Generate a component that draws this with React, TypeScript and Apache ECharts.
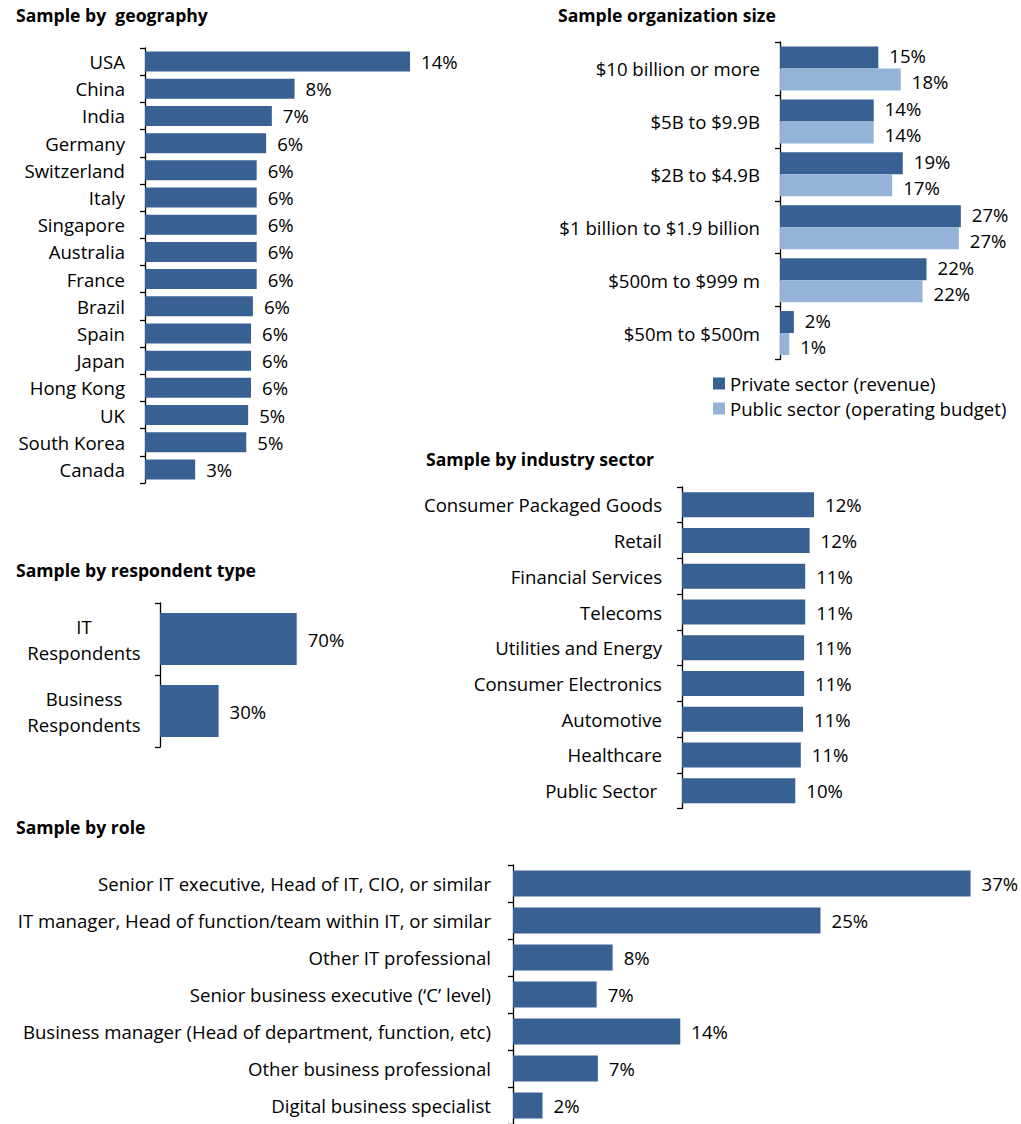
import React, { useEffect, useRef } from 'react';
import * as echarts from 'echarts';

const FONT = 'Open Sans';
const DARK = '#386092';
const LIGHT = '#95B3D7';
const LABEL_SIZE = 18.6;

const geoCategories = ['USA', 'China', 'India', 'Germany', 'Switzerland', 'Italy', 'Singapore', 'Australia', 'France', 'Brazil', 'Spain', 'Japan', 'Hong Kong', 'UK', 'South Korea', 'Canada'];
const geoValues = [14.0, 7.9, 6.7, 6.4, 5.9, 5.9, 5.9, 5.9, 5.9, 5.7, 5.6, 5.6, 5.6, 5.45, 5.35, 2.65];

const orgCategories = ['$10 billion or more', '$5B to $9.9B', '$2B to $4.9B', '$1 billion to $1.9 billion', '$500m to $999 m', '$50m to $500m'];
const orgPrivate = [14.9, 14.2, 18.6, 27.4, 22.2, 2.1];
const orgPublic = [18.3, 14.2, 17.0, 27.1, 21.6, 1.4];
const orgSeriesNames = ['Private sector (revenue)', 'Public sector (operating budget)'];

const industryCategories = ['Consumer Packaged Goods', 'Retail', 'Financial Services', 'Telecoms', 'Utilities and Energy', 'Consumer Electronics', 'Automotive', 'Healthcare', 'Public Sector '];
const industryValues = [12.0, 11.6, 11.2, 11.2, 11.1, 11.1, 11.0, 10.8, 10.3];

const respondentCategories = ['IT\nRespondents', 'Business\nRespondents'];
const respondentValues = [70, 30];

const roleCategories = [
  'Senior IT executive, Head of IT, CIO, or similar',
  'IT manager, Head of function/team within IT, or similar',
  'Other IT professional',
  'Senior business executive (\u2018C\u2019 level)',
  'Business manager (Head of department, function, etc)',
  'Other business professional',
  'Digital business specialist',
];
const roleValues = [37.2, 25.0, 8.1, 6.8, 13.6, 6.9, 2.4];

const titles = ['Sample by  geography', 'Sample organization size', 'Sample by industry sector', 'Sample by respondent type', 'Sample by role'];

const pct = (p: any) => Math.round(p.value) + '%';

function catAxis(gridIndex: number, data: string[], margin: number, extraLabel: any = {}) {
  return {
    type: 'category',
    gridIndex,
    data,
    inverse: true,
    axisLine: { show: true, lineStyle: { color: '#000', width: 1.3 } },
    axisTick: { show: true, length: 5, lineStyle: { color: '#000', width: 1.3 } },
    axisLabel: { margin, fontSize: LABEL_SIZE, color: '#000', fontFamily: FONT, ...extraLabel },
  };
}

function valAxis(gridIndex: number, max: number) {
  return { type: 'value', gridIndex, min: 0, max, show: false, splitLine: { show: false } };
}

function barSeries(name: string, gridIndex: number, data: number[], color: string, barWidth: number, extra: any = {}, labelExtra: any = {}) {
  return {
    type: 'bar',
    name,
    xAxisIndex: gridIndex,
    yAxisIndex: gridIndex,
    data,
    barWidth,
    itemStyle: { color },
    label: {
      show: true,
      position: 'right',
      distance: 11,
      fontSize: LABEL_SIZE,
      lineHeight: 20,
      color: '#000',
      fontFamily: FONT,
      formatter: pct,
      ...labelExtra,
    },
    ...extra,
  };
}

function titleAt(text: string, left: number, top: number) {
  return { text, left, top, padding: 0, textStyle: { fontSize: 17.6, fontWeight: 'bold', color: '#000', fontFamily: FONT } };
}

export default function App() {
  const ref = useRef<HTMLDivElement>(null);
  useEffect(() => {
    const chart = echarts.init(ref.current!, null, { renderer: 'svg' });
    const option: any = {
      animation: false,
      backgroundColor: '#fff',
      title: [
        titleAt(titles[0], 16, 6),
        titleAt(titles[1], 558, 6),
        titleAt(titles[2], 426, 450),
        titleAt(titles[3], 16, 561),
        titleAt(titles[4], 16, 818),
      ],
      legend: {
        data: orgSeriesNames,
        orient: 'vertical',
        left: 708,
        top: 369,
        itemWidth: 12,
        itemHeight: 12,
        itemGap: 6,
        icon: 'rect',
        textStyle: { fontSize: LABEL_SIZE, color: '#000', fontFamily: FONT },
      },
      grid: [
        { left: 145, top: 48, width: 378.6, height: 435 },
        { left: 780, top: 42, width: 198, height: 317.5 },
        { left: 682, top: 487, width: 220, height: 321.5 },
        { left: 160, top: 603, width: 195.3, height: 144 },
        { left: 513, top: 865, width: 492, height: 261 },
      ],
      xAxis: [valAxis(0, 20), valAxis(1, 30), valAxis(2, 20), valAxis(3, 100), valAxis(4, 40)],
      yAxis: [
        catAxis(0, geoCategories, 20),
        catAxis(1, orgCategories, 20),
        catAxis(2, industryCategories, 20),
        catAxis(3, respondentCategories, 76, { align: 'center', lineHeight: 26 }),
        catAxis(4, roleCategories, 22),
      ],
      series: [
        barSeries('Geography', 0, geoValues, DARK, 20),
        barSeries(orgSeriesNames[0], 1, orgPrivate, DARK, 22, { barGap: '0%' }, { offset: [0, -2] }),
        barSeries(orgSeriesNames[1], 1, orgPublic, LIGHT, 22, { barGap: '0%' }, { offset: [0, 2] }),
        barSeries('Industry', 2, industryValues, DARK, 25),
        barSeries('Respondent', 3, respondentValues, DARK, 52),
        barSeries('Role', 4, roleValues, DARK, 26),
      ],
    };
    chart.setOption(option);
    return () => chart.dispose();
  }, []);
  return (
    <div
      ref={ref}
      style={{ position: 'absolute', left: 0, top: 0, width: 1021, height: 1124, background: '#fff' }}
    />
  );
}
